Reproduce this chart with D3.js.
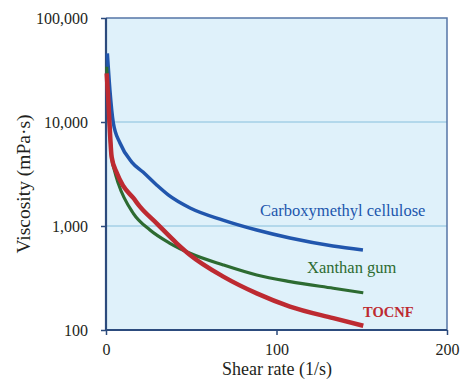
<!DOCTYPE html>
<html>
<head>
<meta charset="utf-8">
<script src="https://cdn.jsdelivr.net/npm/d3@7"></script>
</head>
<body style="margin:0; background:#fff">
<script>
(function() {
    'use strict';

    // shear rate (1/s) and viscosity (mPa·s)
    var cmc_x = [0.8, 2.3, 4.3, 8.2, 15.1, 21.7, 29.7, 36.5, 49.3, 68.6, 88.4, 107.9, 133.1, 150.7];
    var cmc_y = [45700, 20300, 9800, 6280, 4120, 3300, 2480, 1990, 1490, 1140, 915, 767, 643, 588];

    var xan_x = [0.4, 1.3, 2.3, 3.3, 5.0, 7.2, 16.0, 25.8, 37.5, 49.3, 68.8, 88.4, 107.9, 133.3, 150.9];
    var xan_y = [34000, 16500, 7800, 4600, 3400, 2570, 1325, 915, 682, 546, 422, 338, 292, 252, 228];

    var toc_x = [0.4, 1.35, 2.35, 3.3, 6.3, 10.1, 16.0, 19.9, 29.7, 41.5, 49.3, 68.8, 88.4, 107.9, 133.3, 150.9];
    var toc_y = [29400, 16300, 7830, 4630, 3240, 2430, 1860, 1535, 1060, 682, 526, 326, 225, 168, 130, 110];

    var x_ticks = [0, 100, 200];
    var y_ticks = [100, 1000, 10000, 100000];

    var series = [
        {name: 'Carboxymethyl cellulose', xs: cmc_x, ys: cmc_y, color: '#2156ad', width: 3.5,
         lx: 260, ly: 216, size: 16.5, weight: 'normal'},
        {name: 'Xanthan gum', xs: xan_x, ys: xan_y, color: '#2d6b31', width: 3.2,
         lx: 307, ly: 273, size: 16.5, weight: 'normal'},
        {name: 'TOCNF', xs: toc_x, ys: toc_y, color: '#bd2a31', width: 4.5,
         lx: 363, ly: 316.5, size: 14.5, weight: 'bold'}
    ];

    var font = '"Liberation Serif"';
    var margin = {top: 18, right: 15, bottom: 51, left: 106};
    var width = 462, height = 381;
    var pw = width - margin.left - margin.right;
    var ph = height - margin.top - margin.bottom;

    var svg = d3.select('body').append('svg')
        .attr('width', width)
        .attr('height', height);

    var plot = svg.append('g')
        .attr('transform', 'translate(' + margin.left + ',' + margin.top + ')');

    var scale_x = d3.scaleLinear().domain([0, 200]).range([0, pw]);
    var scale_y = d3.scaleLog().domain([100, 100000]).range([ph, 0]);

    plot.append('rect')
        .attr('width', pw)
        .attr('height', ph)
        .attr('fill', '#dff1fa');

    // grid lines
    plot.selectAll('line.grid')
        .data([1000, 10000])
        .enter().append('line')
        .attr('class', 'grid')
        .attr('x1', 0).attr('x2', pw)
        .attr('y1', function(d) {return scale_y(d);})
        .attr('y2', function(d) {return scale_y(d);})
        .attr('stroke', '#86bfdc')
        .attr('stroke-width', 1);

    // top and right frame
    plot.append('path')
        .attr('d', 'M0,0H' + pw + 'V' + ph)
        .attr('fill', 'none')
        .attr('stroke', '#5576a6')
        .attr('stroke-width', 1.5);

    var fmt = d3.format(',');
    var axis_y = plot.append('g')
        .call(d3.axisLeft(scale_y).tickValues(y_ticks).tickFormat(fmt)
              .tickSize(5).tickPadding(13));
    var axis_x = plot.append('g')
        .attr('transform', 'translate(0,' + ph + ')')
        .call(d3.axisBottom(scale_x).tickValues(x_ticks).tickFormat(d3.format('d'))
              .tickSize(5).tickPadding(9));

    [axis_x, axis_y].forEach(function(ax) {
        ax.attr('font-family', null);
        ax.select('.domain').attr('stroke', '#2c4b7d').attr('stroke-width', 2.2);
        ax.selectAll('.tick line').attr('stroke', '#2c4b7d').attr('stroke-width', 1.5);
        ax.selectAll('.tick text')
            .style('font-family', font)
            .attr('font-size', 16)
            .attr('fill', '#231f20');
    });
    axis_y.select('.domain').attr('d', 'M0,' + ph + 'V0');
    axis_x.select('.domain').attr('d', 'M0,0H' + pw);

    var line = d3.line()
        .x(function(d) {return scale_x(d[0]);})
        .y(function(d) {return scale_y(d[1]);})
        .curve(d3.curveMonotoneX);

    series.forEach(function(s) {
        var pts = s.xs.map(function(x, i) {return [x, s.ys[i]];});
        plot.append('path')
            .attr('d', line(pts))
            .attr('fill', 'none')
            .attr('stroke', s.color)
            .attr('stroke-width', s.width)
            .attr('stroke-linejoin', 'round')
            .attr('stroke-linecap', 'butt');
    });

    series.forEach(function(s) {
        svg.append('text')
            .attr('x', s.lx)
            .attr('y', s.ly)
            .style('font-family', font)
            .style('font-size', s.size + 'px')
            .style('font-weight', s.weight)
            .attr('fill', s.color)
            .text(s.name);
    });

    svg.append('text')
        .attr('text-anchor', 'middle')
        .style('font-family', font)
        .style('font-size', '18px')
        .attr('fill', '#231f20')
        .attr('transform', 'translate(277,375)')
        .text('Shear rate (1/s)');

    svg.append('text')
        .attr('text-anchor', 'middle')
        .style('font-family', font)
        .style('font-size', '19.5px')
        .attr('fill', '#231f20')
        .attr('transform', 'translate(30,184) rotate(-90)')
        .text('Viscosity (mPa·s)');
})();
</script>
</body>
</html>
